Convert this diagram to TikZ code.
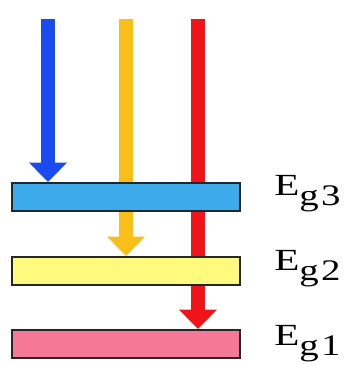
\documentclass[tikz,border=0pt]{standalone}
\usepackage{fontspec}
\setmainfont{Liberation Serif}
\usepackage{tikz}
\usetikzlibrary{arrows.meta, backgrounds}

\definecolor{rayblue}{RGB}{25,75,240}
\definecolor{rayyellow}{RGB}{250,190,25}
\definecolor{rayred}{RGB}{240,20,25}
\definecolor{barblue}{RGB}{60,170,235}
\definecolor{baryellow}{RGB}{255,250,125}
\definecolor{barpink}{RGB}{245,120,150}

\newcommand{\gaplabel}[1]{\scalebox{1.3}[1]{\scalebox{1.8}[1.75]{E}\raisebox{-6pt}{\fontsize{17}{20}\selectfont g\kern1pt#1}}}

\begin{document}
\begin{tikzpicture}[
        x=0.02cm, y=-0.02cm,
        band/.style={
            rectangle,
            draw=black!85,
            line width=1.2pt,
            minimum width=4.56cm,
            minimum height=0.56cm,
            inner sep=0pt
        },
        ray/.style={
            -{Triangle[width=21pt,length=11pt]},
            line width=8pt
        },
        gap/.style={
            anchor=base west,
            inner sep=0pt
        }
    ]
    \useasboundingbox (0,0) rectangle (360,365);

    % Band levels
    \node[band, fill=barblue] (eg3) at (126,197) {};
    \node[band, fill=baryellow] (eg2) at (126,271) {};
    \node[band, fill=barpink] (eg1) at (126,344) {};

    % Labels
    \node[gap] (l3) at (274,195) {\gaplabel{3}};
    \node[gap] (l2) at (274,270) {\gaplabel{2}};
    \node[gap] (l1) at (274,345) {\gaplabel{1}};

    % Photons, under the bands
    \coordinate (bluestart) at (48,19);
    \coordinate (yellowstart) at (126,19);
    \coordinate (redstart) at (198,19);
    \begin{scope}[on background layer]
        \draw[ray, rayblue] (bluestart) -- (bluestart |- eg3.north);
        \draw[ray, rayyellow] (yellowstart) -- (yellowstart |- eg2.north);
        \draw[ray, rayred] (redstart) -- (redstart |- eg1.north);
    \end{scope}

\end{tikzpicture}
\end{document}
